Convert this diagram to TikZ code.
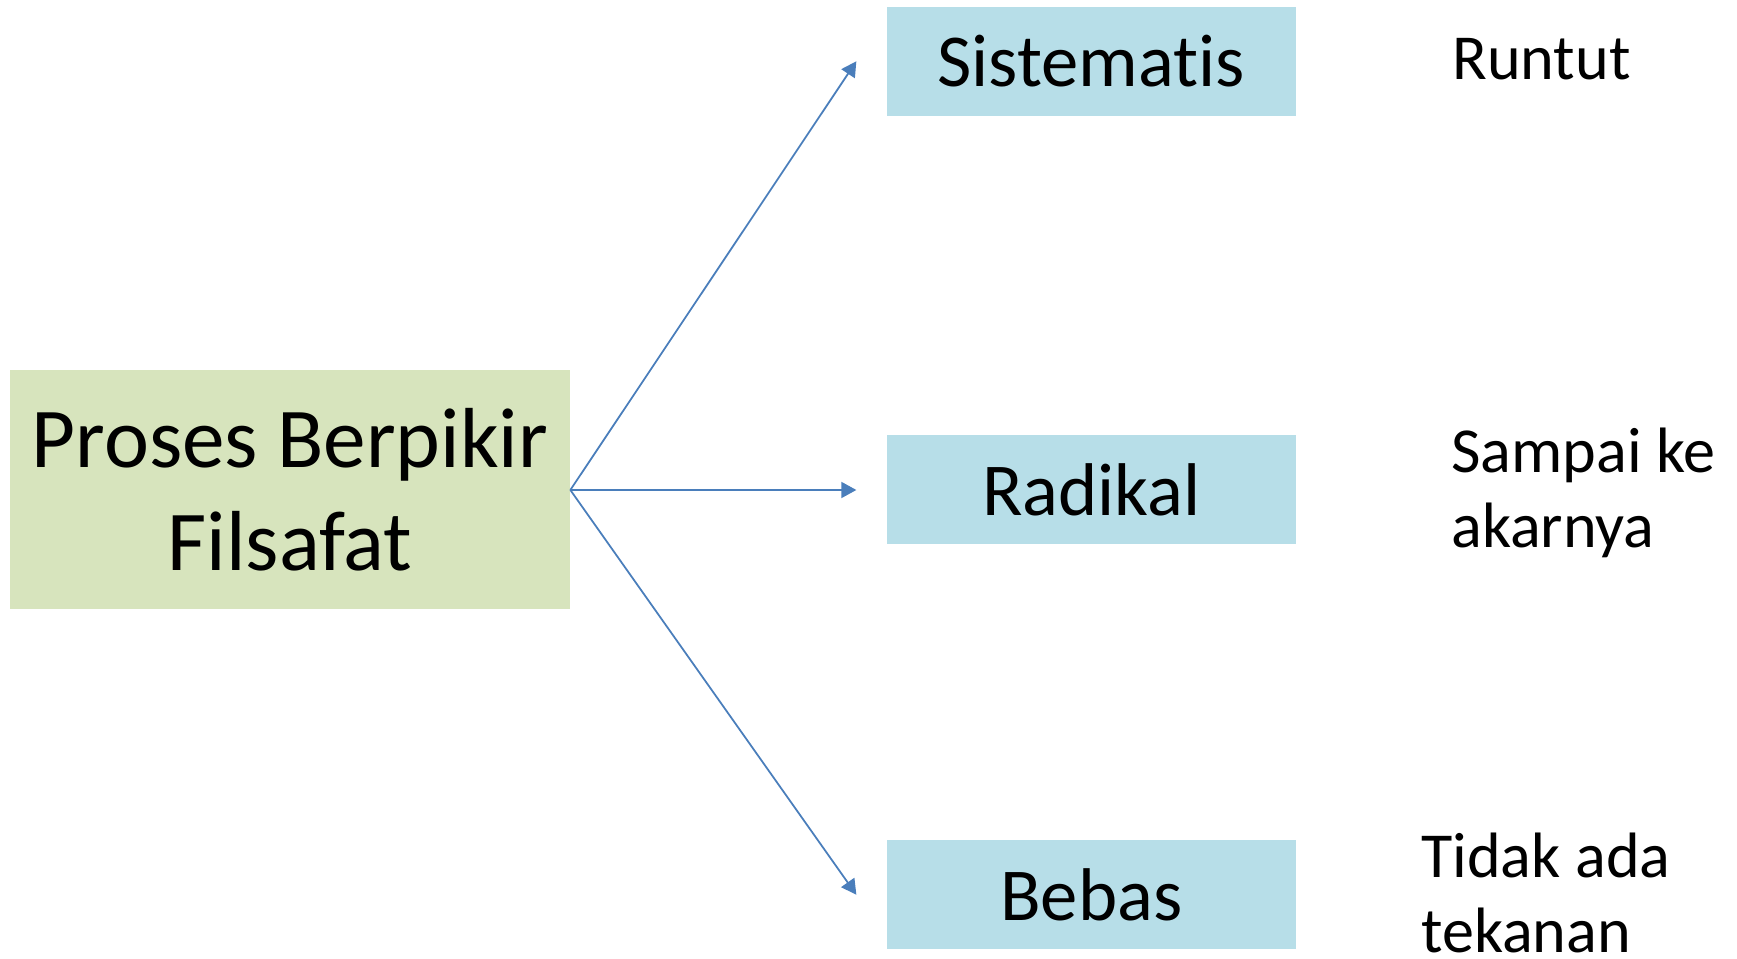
\documentclass[tikz,border=0pt]{standalone}
\usepackage{fontspec}
\setmainfont{Carlito}[Ligatures=NoCommon]
\usepackage{xcolor}
\usepackage{tikz}
\usetikzlibrary{arrows.meta}
\usetikzlibrary{positioning}
\definecolor{hijau}{HTML}{D7E4BD}
\definecolor{biru}{HTML}{B7DEE8}
\definecolor{garis}{HTML}{4A7EBB}
\tikzset{
  Kotak/.style={fill=#1, draw=none, inner sep=0pt, align=center}, % kotak berwarna
  KotakBiru/.style={Kotak=biru, minimum width=8.18cm, minimum height=2.18cm,
    font=\fontsize{42.5}{52}\selectfont}, % kotak ciri
  Panah/.style={garis, line width=1pt, ->}, % panah
  Ket/.style={anchor=base west, align=left, inner sep=0pt,
    font=\fontsize{36.5}{43}\selectfont} % keterangan
}

\begin{document}
\begin{tikzpicture}[
>={Triangle[length=3mm,width=3.2mm]} % ujung panah
]
\useasboundingbox (0,0) rectangle (34.74,-19.18);

%Kotak
\node[Kotak=hijau, minimum width=11.2cm, minimum height=4.78cm,
  font=\fontsize{48.5}{58.5}\selectfont] (proses) at (5.8,-9.8) {Proses Berpikir\\Filsafat};
\node[KotakBiru, right=6.32cm of proses] (radikal) {Radikal};
\node[KotakBiru, above=6.38cm of radikal] (sistematis) {Sistematis};
\node[KotakBiru, below=5.9cm of radikal] (bebas) {Bebas};

%Ujung panah
\coordinate[left=0.6cm of sistematis.west] (u1);
\coordinate[left=0.6cm of radikal.west] (u2);
\coordinate[left=0.6cm of bebas.west] (u3);

%Panah
\draw[Panah] (proses.east) -- (u1);
\draw[Panah] (proses.east) -- (u2);
\draw[Panah] (proses.east) -- (u3);

%Keterangan (base = baris terakhir)
\node[Ket] (runtut) at (29.04,-1.6) {Runtut};
\node[Ket] (akar) at (29.02,-10.96) {Sampai ke\\akarnya};
\node[Ket] (tekanan) at (28.42,-19.06) {Tidak ada\\tekanan};

\end{tikzpicture}
\end{document}
